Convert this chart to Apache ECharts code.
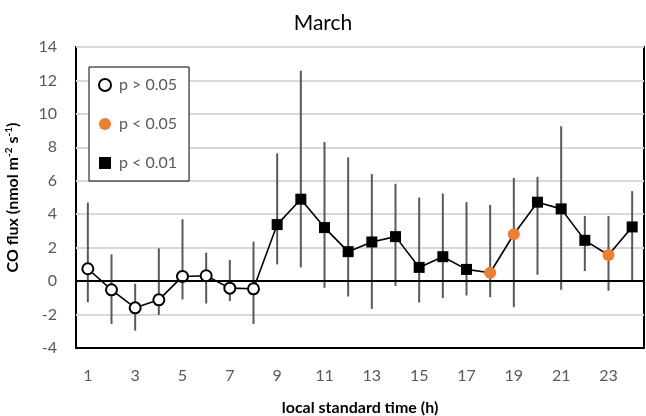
<!DOCTYPE html>
<html><head><meta charset="utf-8">
<script src="https://cdn.jsdelivr.net/npm/echarts@6/dist/echarts.min.js"></script>
<style>html,body{margin:0;padding:0;background:#fff}#c{width:646px;height:416px}</style>
</head><body><div id="c"></div>
<script>
const hours = ['1','2','3','4','5','6','7','8','9','10','11','12','13','14','15','16','17','18','19','20','21','22','23','24'];
const flux = [0.74,-0.52,-1.6,-1.12,0.28,0.32,-0.42,-0.46,3.38,4.9,3.2,1.76,2.34,2.66,0.82,1.46,0.7,0.5,2.8,4.72,4.32,2.44,1.56,3.24];
const errHigh = [4.7,1.6,-0.16,1.96,3.7,1.7,1.26,2.36,7.64,12.58,8.32,7.4,6.4,5.82,5.0,5.24,4.72,4.56,6.18,6.24,9.26,3.9,3.9,5.38];
const errLow = [-1.26,-2.56,-2.96,-2.02,-1.1,-1.34,-1.2,-2.56,1.0,0.82,-0.4,-0.92,-1.66,-0.28,-1.28,-1.02,-0.86,-0.96,-1.56,0.38,-0.52,0.6,-0.58,0.02];
const signif = ['ns','ns','ns','ns','ns','ns','ns','ns','p01','p01','p01','p01','p01','p01','p01','p01','p01','p05','p05','p01','p01','p01','p05','p01'];
const groupNames = {ns:'p > 0.05', p05:'p < 0.05', p01:'p < 0.01'};
const yTicks = {min:-4, max:14, interval:2};

const FONT = 'Lato';
const chart = echarts.init(document.getElementById('c'));
const pick = g => flux.map((v,i) => signif[i] === g ? v : null);
const errData = hours.map((h,i) => [i, errLow[i], errHigh[i]]);

chart.setOption({
  animation:false,
  textStyle:{fontFamily:FONT},
  title:{text:'March', left:'center', top:8, textStyle:{fontFamily:FONT, fontSize:21, fontWeight:'normal', color:'#000'}},
  grid:{left:76, right:2, top:47, bottom:68, containLabel:false, outerBoundsMode:'none',
        show:true, borderColor:'#000', borderWidth:2, backgroundColor:'transparent'},
  legend:{
    orient:'vertical', left:89, top:67, padding:[10,12,10,9], itemGap:23,
    itemWidth:12, itemHeight:12, borderColor:'#000', borderWidth:1, backgroundColor:'#fff',
    textStyle:{fontFamily:FONT, fontSize:16, color:'#595959', padding:[0,0,0,3]},
    data:[
      {name:groupNames.ns, icon:'circle', itemStyle:{color:'#fff', borderColor:'#000', borderWidth:2}},
      {name:groupNames.p05, icon:'circle', itemStyle:{color:'#ED7D31', borderWidth:0}},
      {name:groupNames.p01, icon:'rect', itemStyle:{color:'#000', borderWidth:0}}
    ]
  },
  xAxis:{
    type:'category', data:hours, boundaryGap:true,
    name:'local standard time (h)', nameLocation:'middle', nameGap:52,
    nameTextStyle:{fontFamily:FONT, fontSize:16, fontWeight:'bold', color:'#000'},
    axisLine:{show:true, onZero:false, lineStyle:{color:'#000', width:2}},
    axisTick:{show:false},
    axisLabel:{interval:1, margin:20, fontFamily:FONT, fontSize:16, color:'#595959'},
    splitLine:{show:false}
  },
  yAxis:{
    type:'value', min:yTicks.min, max:yTicks.max, interval:yTicks.interval,
    name:'CO flux (nmol m{sup|-2} s{sup|-1})', nameLocation:'middle', nameGap:54, nameRotate:90,
    nameTextStyle:{fontFamily:FONT, fontSize:16, fontWeight:'bold', color:'#000',
      rich:{sup:{fontFamily:FONT, fontSize:10, fontWeight:'bold', color:'#000', padding:[0,0,8,0]}}},
    axisLine:{show:false}, axisTick:{show:false},
    axisLabel:{margin:19, fontFamily:FONT, fontSize:16, color:'#595959'},
    splitLine:{show:true, lineStyle:{color:'#d9d9d9', width:2}}
  },
  series:[
    {
      type:'custom', name:'err', data:errData, z:2, silent:true,
      encode:{x:0, y:[1,2]},
      renderItem:(params, api) => {
        const x = api.value(0);
        const p1 = api.coord([x, api.value(1)]);
        const p2 = api.coord([x, api.value(2)]);
        return {type:'line', shape:{x1:p1[0], y1:p1[1], x2:p2[0], y2:p2[1]}, style:{stroke:'#595959', lineWidth:2}};
      }
    },
    {
      type:'line', name:'line', data:flux, z:3, symbol:'none', silent:true,
      lineStyle:{color:'#000', width:1.6},
      markLine:{silent:true, symbol:'none', label:{show:false}, lineStyle:{color:'#000', width:2, type:'solid'}, data:[{yAxis:0}]}
    },
    {
      type:'scatter', name:groupNames.ns, data:pick('ns'), z:4, symbol:'circle', symbolSize:11,
      itemStyle:{color:'#fff', borderColor:'#000', borderWidth:2, opacity:1}
    },
    {
      type:'scatter', name:groupNames.p05, data:pick('p05'), z:4, symbol:'circle', symbolSize:12,
      itemStyle:{color:'#ED7D31', opacity:1}
    },
    {
      type:'scatter', name:groupNames.p01, data:pick('p01'), z:4, symbol:'rect', symbolSize:11,
      itemStyle:{color:'#000', opacity:1}
    }
  ]
});
</script></body></html>
